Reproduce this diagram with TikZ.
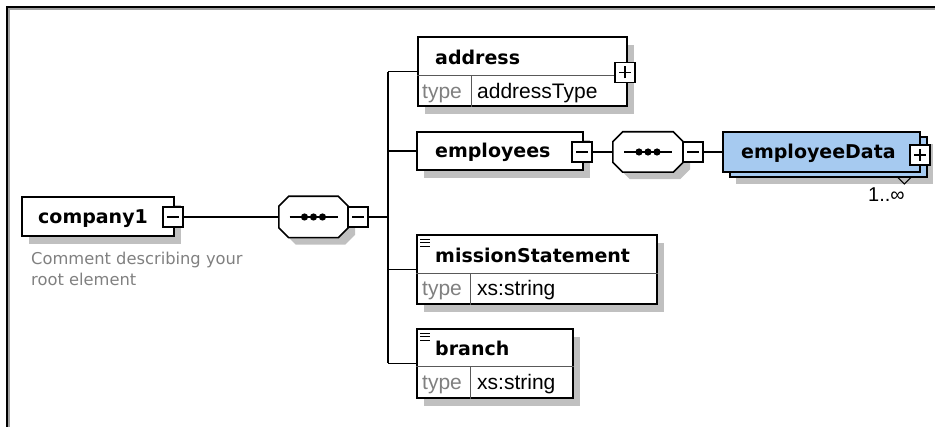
\documentclass[tikz,border=0pt]{standalone}
\usepackage{fontspec}
\setmainfont{Liberation Sans}
\newfontfamily\labelfont{DejaVu Sans}
\usetikzlibrary{positioning, calc, shadows}
\definecolor{schemablue}{HTML}{A6CAF0}
\definecolor{schemashadow}{HTML}{C0C0C0}
\definecolor{schemagrey}{HTML}{808080}
\definecolor{framegrey}{HTML}{A0A0A0}

\begin{document}
\begin{tikzpicture}[
        x=1pt, y=-1pt,
        link/.style={line width=1.6pt},
        elembox/.style={
            draw,
            line width=1.6pt,
            fill=white,
            inner sep=0pt,
            minimum height=39,
            drop shadow={shadow xshift=7pt, shadow yshift=-8pt, fill=schemashadow, opacity=1}
        },
        databox/.style={
            draw,
            line width=1.6pt,
            fill=schemablue,
            inner sep=0pt,
            minimum width=197,
            minimum height=40,
            drop shadow={shadow xshift=13pt, shadow yshift=-12pt, fill=schemashadow, opacity=1},
            copy shadow={shadow xshift=7pt, shadow yshift=-5pt, draw=black, fill=schemablue, line width=1.6pt}
        },
        seqarea/.style={inner sep=0pt, minimum width=69, minimum height=41},
        minusbox/.style={
            draw, line width=1.3pt, fill=white, minimum size=20, inner sep=0pt,
            path picture={\draw[line width=1.3pt]
                ([xshift=-6pt]path picture bounding box.center) -- ([xshift=6pt]path picture bounding box.center);}
        },
        plusbox/.style={
            minusbox,
            path picture={\draw[line width=1.3pt]
                ([xshift=-6pt]path picture bounding box.center) -- ([xshift=6pt]path picture bounding box.center)
                ([yshift=-6pt]path picture bounding box.center) -- ([yshift=6pt]path picture bounding box.center);}
        },
        divider/.style={line width=1.1pt, black!65},
        titletext/.style={anchor=base west, inner sep=0pt, font=\labelfont\bfseries\fontsize{19}{22}\selectfont},
        typetext/.style={anchor=base west, inner sep=0pt, text=schemagrey, font=\fontsize{21}{24}\selectfont},
        valuetext/.style={anchor=base west, inner sep=0pt, font=\fontsize{21}{24}\selectfont},
        commenttext/.style={anchor=north west, inner sep=0pt, align=left, text=schemagrey,
            font=\labelfont\fontsize{16.3}{21}\selectfont}
    ]
        \useasboundingbox (0,0) rectangle (935,427);

        % window frame
        \draw[framegrey, line width=2pt] (9,427) -- (9,9) -- (935,9);
        \draw[line width=2pt] (7,427) -- (7,7) -- (935,7);

        % root element
        \node[elembox, minimum width=152] (company1) at (98,216.5) {};
        \node[titletext] (company1name) at (38,224) {company1};
        \node[minusbox] (company1minus) at (173,217) {};
        \node[commenttext] (company1comment) at (31,252) {Comment describing your\\root element};

        % sequence compositors (octagons)
        \node[seqarea] (mainseq) at (313.5,217) {};
        \node[seqarea, minimum width=70, minimum height=40] (empseq) at (648,152) {};
        \foreach \seq in {mainseq, empseq} {
            \fill[schemashadow, transform canvas={shift={(7pt,-7pt)}}]
                ([xshift=10pt]\seq.north west) -- ([xshift=-10pt]\seq.north east)
                -- ([yshift=-10pt]\seq.north east) -- ([yshift=10pt]\seq.south east)
                -- ([xshift=-10pt]\seq.south east) -- ([xshift=10pt]\seq.south west)
                -- ([yshift=10pt]\seq.south west) -- ([yshift=-10pt]\seq.north west) -- cycle;
            \filldraw[fill=white, line width=1.6pt]
                ([xshift=10pt]\seq.north west) -- ([xshift=-10pt]\seq.north east)
                -- ([yshift=-10pt]\seq.north east) -- ([yshift=10pt]\seq.south east)
                -- ([xshift=-10pt]\seq.south east) -- ([xshift=10pt]\seq.south west)
                -- ([yshift=10pt]\seq.south west) -- ([yshift=-10pt]\seq.north west) -- cycle;
            \draw[link] ([xshift=-24pt]\seq.center) -- ([xshift=24pt]\seq.center);
            \foreach \dx in {-9,0,9}
                \fill ([xshift=\dx pt]\seq.center) circle[radius=3.6pt];
        }
        \node[minusbox] (mainseqminus) at (358,217) {};
        \node[minusbox] (empseqminus) at (693,152) {};

        \coordinate (bartop) at (388,72);
        \coordinate (barbottom) at (388,363.5);
        \draw[link] (company1minus.east) -- (mainseq.west);
        \draw[link] (mainseqminus.east) -- (mainseqminus.east -| bartop);
        \draw[link] (bartop) -- (barbottom);

        % address
        \node[elembox, minimum width=209, minimum height=69] (address) at (522.5,71.5) {};
        \draw[divider] ([yshift=-39pt]address.north west) -- ([yshift=-39pt]address.north east)
            ([xshift=54pt,yshift=-39pt]address.north west) -- ([xshift=54pt]address.south west);
        \node[titletext] (addressname) at (435,65) {address};
        \node[typetext] (addresstype) at (422,98.3) {type};
        \node[valuetext] (addressvalue) at (477,98.3) {addressType};
        \node[plusbox] (addressplus) at (625,72.5) {};
        \draw[link] (address.west -| bartop) -- (address.west);

        % employees
        \node[elembox, minimum width=166, minimum height=38] (employees) at (500,151) {};
        \node[titletext] (employeesname) at (435,158) {employees};
        \node[minusbox] (employeesminus) at (582,152) {};
        \draw[link] (employees.west -| bartop) -- (employees.west);
        \draw[link] (employeesminus.east) -- (empseq.west);

        % employeeData
        \node[databox] (employeeData) at (821.5,152) {};
        \node[titletext] (employeeDataname) at (741,159) {employeeData};
        \node[plusbox] (employeeDataplus) at (920,155) {};
        \draw[link] (empseqminus.east) -- (employeeData.west);
        \draw[line width=1pt] ([xshift=-24pt]employeeData.south east |- 0,176.5) coordinate (occursleft)
            -- ++(7.5,7.5) -- ++(7.5,-7.5);
        \node[valuetext, font=\fontsize{20}{24}\selectfont] (employeeDataoccurs) at (868,201.7) {1..∞};

        % missionStatement
        \node[elembox, minimum width=240, minimum height=69] (missionStatement) at (537,269.5) {};
        \draw[divider] ([yshift=-39pt]missionStatement.north west) -- ([yshift=-39pt]missionStatement.north east)
            ([xshift=54pt,yshift=-39pt]missionStatement.north west) -- ([xshift=54pt]missionStatement.south west);
        \foreach \dy in {5,8.5,12}
            \draw[line width=1.2pt] ([xshift=4pt,yshift=-\dy pt]missionStatement.north west) -- ++(10,0);
        \node[titletext] (missionStatementname) at (435,262.7) {missionStatement};
        \node[typetext] (missionStatementtype) at (422,296) {type};
        \node[valuetext] (missionStatementvalue) at (477,296) {xs:string};
        \draw[link] (missionStatement.west -| bartop) -- (missionStatement.west);

        % branch
        \node[elembox, minimum width=156, minimum height=69] (branch) at (495,363.5) {};
        \draw[divider] ([yshift=-38pt]branch.north west) -- ([yshift=-38pt]branch.north east)
            ([xshift=54pt,yshift=-38pt]branch.north west) -- ([xshift=54pt]branch.south west);
        \foreach \dy in {5,8.5,12}
            \draw[line width=1.2pt] ([xshift=4pt,yshift=-\dy pt]branch.north west) -- ++(10,0);
        \node[titletext] (branchname) at (435,355.7) {branch};
        \node[typetext] (branchtype) at (422,390) {type};
        \node[valuetext] (branchvalue) at (477,390) {xs:string};
        \draw[link] (branch.west -| bartop) -- (branch.west);
    \end{tikzpicture}
\end{document}
